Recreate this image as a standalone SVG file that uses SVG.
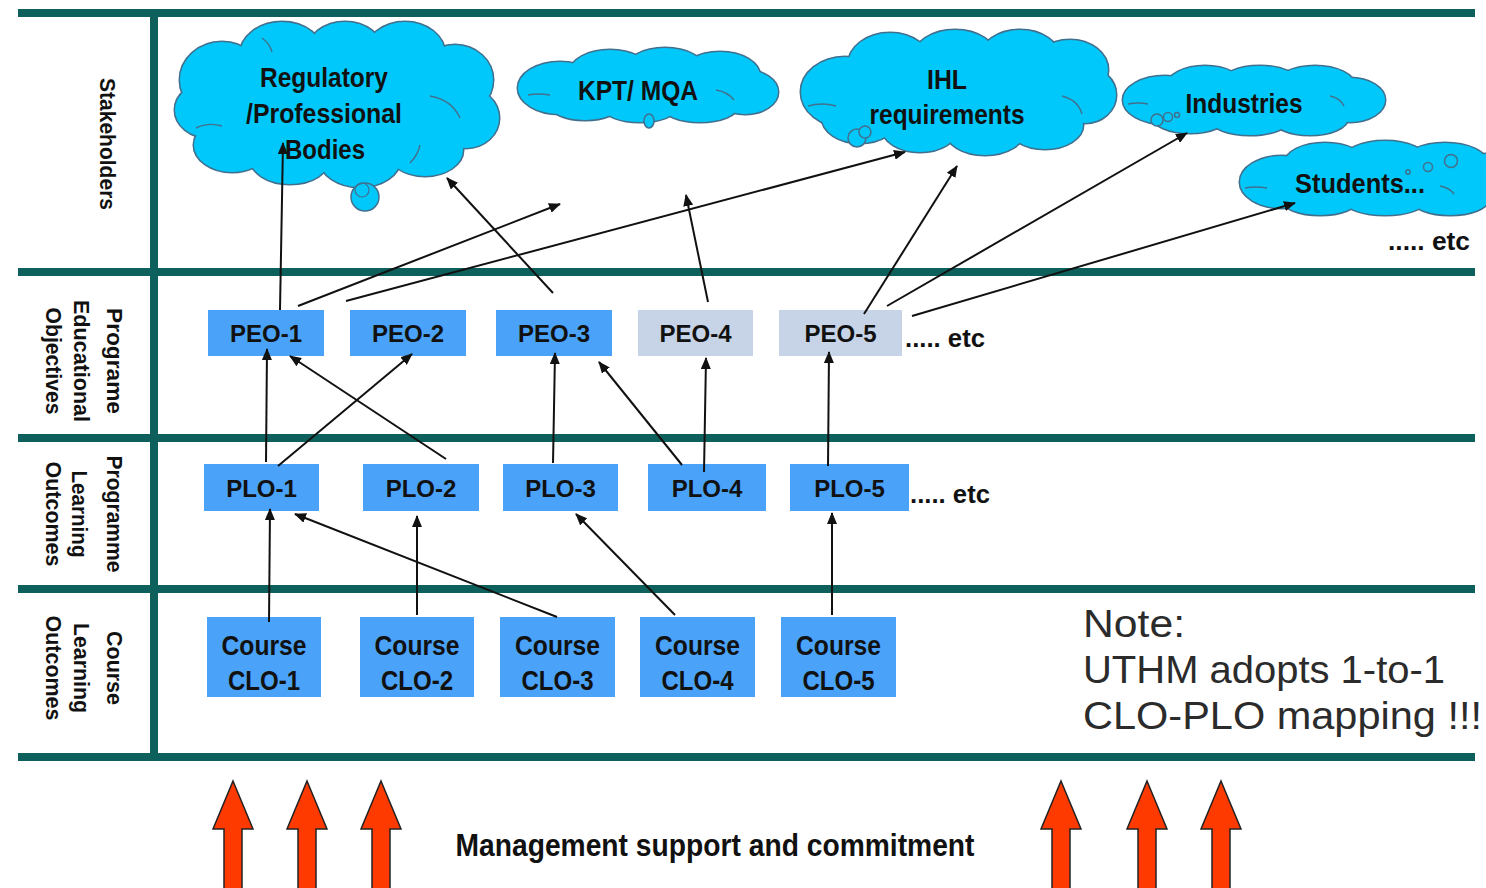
<svg xmlns="http://www.w3.org/2000/svg" xmlns:xlink="http://www.w3.org/1999/xlink" width="1486" height="888" viewBox="0 0 1486 888">
<style>
.bar{fill:#0e605c}
.cl-under{fill:#00c8fa;stroke:#41708f;stroke-width:3}
.cl-over{fill:#00c8fa;stroke:none}
.cl-in{fill:none;stroke:#41708f;stroke-width:1.4}
.bub{fill:#00c8fa;stroke:#41708f;stroke-width:1.5}
.ct{font-family:"Liberation Sans",Arial,sans-serif;font-weight:bold;font-size:28px;fill:#111;text-anchor:middle}
.box{fill:#4aa3f8}
.box2{fill:#c7d3e6}
.bt{font-family:"Liberation Sans",Arial,sans-serif;font-weight:bold;font-size:24px;fill:#111;text-anchor:middle}
.clt{font-family:"Liberation Sans",Arial,sans-serif;font-weight:bold;font-size:28px;fill:#111;text-anchor:middle}
.lab{font-family:"Liberation Sans",Arial,sans-serif;font-weight:bold;font-size:22px;fill:#111;text-anchor:middle}
.etc{font-family:"Liberation Sans",Arial,sans-serif;font-weight:bold;font-size:26px;fill:#111}
.note{font-family:"Liberation Sans",Arial,sans-serif;font-size:38px;fill:#2b2b2b}
.conn line{stroke:#111;stroke-width:2;marker-end:url(#ah)}
.red{fill:#ff3a00;stroke:#222;stroke-width:1.5}
</style>
<defs>
<marker id="ah" markerUnits="userSpaceOnUse" markerWidth="12" markerHeight="10" refX="11" refY="5" orient="auto">
<path d="M0,0 L12,5 L0,10 z" fill="#111"/>
</marker>
<path id="redarrow" d="M0,781 L20,829 L9,829 L9,890 L-9,890 L-9,829 L-20,829 Z"/>
<g id="c1">
<ellipse cx="222" cy="80" rx="42" ry="38"/><ellipse cx="282" cy="55" rx="42" ry="33"/><ellipse cx="345" cy="52" rx="38" ry="30"/><ellipse cx="405" cy="54" rx="40" ry="32"/><ellipse cx="455" cy="80" rx="38" ry="35"/><ellipse cx="466" cy="118" rx="33" ry="30"/><ellipse cx="425" cy="150" rx="38" ry="26"/><ellipse cx="360" cy="160" rx="40" ry="27"/><ellipse cx="290" cy="158" rx="40" ry="26"/><ellipse cx="232" cy="145" rx="38" ry="27"/><ellipse cx="210" cy="110" rx="35" ry="28"/><ellipse cx="335" cy="105" rx="125" ry="55"/>
</g>
<g id="c2">
<ellipse cx="560" cy="88" rx="42" ry="26"/><ellipse cx="610" cy="72" rx="40" ry="22"/><ellipse cx="665" cy="70" rx="40" ry="22"/><ellipse cx="720" cy="76" rx="40" ry="24"/><ellipse cx="745" cy="92" rx="33" ry="22"/><ellipse cx="700" cy="106" rx="38" ry="16"/><ellipse cx="640" cy="108" rx="36" ry="14"/><ellipse cx="585" cy="105" rx="35" ry="15"/><ellipse cx="648" cy="90" rx="100" ry="22"/>
</g>
<g id="c3">
<ellipse cx="845" cy="92" rx="44" ry="35"/><ellipse cx="890" cy="65" rx="42" ry="32"/><ellipse cx="955" cy="58" rx="42" ry="28"/><ellipse cx="1020" cy="58" rx="40" ry="28"/><ellipse cx="1070" cy="70" rx="38" ry="30"/><ellipse cx="1085" cy="95" rx="31" ry="28"/><ellipse cx="1045" cy="125" rx="38" ry="24"/><ellipse cx="985" cy="130" rx="40" ry="25"/><ellipse cx="920" cy="128" rx="38" ry="24"/><ellipse cx="860" cy="118" rx="38" ry="25"/><ellipse cx="960" cy="95" rx="115" ry="40"/>
</g>
<g id="c4">
<ellipse cx="1165" cy="100" rx="42" ry="24"/><ellipse cx="1205" cy="86" rx="38" ry="20"/><ellipse cx="1260" cy="84" rx="40" ry="18"/><ellipse cx="1315" cy="86" rx="40" ry="20"/><ellipse cx="1350" cy="100" rx="35" ry="22"/><ellipse cx="1310" cy="118" rx="38" ry="17"/><ellipse cx="1250" cy="119" rx="40" ry="16"/><ellipse cx="1190" cy="116" rx="38" ry="17"/><ellipse cx="1254" cy="101" rx="100" ry="22"/>
</g>
<g id="c5">
<ellipse cx="1282" cy="182" rx="42" ry="26"/><ellipse cx="1325" cy="163" rx="40" ry="20"/><ellipse cx="1385" cy="160" rx="42" ry="19"/><ellipse cx="1445" cy="163" rx="42" ry="20"/><ellipse cx="1486" cy="178" rx="30" ry="24"/><ellipse cx="1450" cy="200" rx="38" ry="15"/><ellipse cx="1385" cy="201" rx="40" ry="14"/><ellipse cx="1320" cy="200" rx="38" ry="15"/><ellipse cx="1375" cy="180" rx="110" ry="25"/>
</g>
</defs>
<rect width="1486" height="888" fill="#ffffff"/>

<g id="frame">
<rect class="bar" x="18" y="9" width="1457" height="8"/>
<rect class="bar" x="18" y="268" width="1457" height="8"/>
<rect class="bar" x="18" y="434" width="1457" height="8"/>
<rect class="bar" x="18" y="585" width="1457" height="8"/>
<rect class="bar" x="18" y="753" width="1457" height="8"/>
<rect class="bar" x="150" y="9" width="8" height="752"/>
</g>

<g id="row-labels">
<text class="lab" transform="translate(100,144) rotate(90)" textLength="132" lengthAdjust="spacingAndGlyphs">Stakeholders</text>
<g transform="translate(107,361) rotate(90)">
<text class="lab" x="0" y="0" textLength="106" lengthAdjust="spacingAndGlyphs">Programe</text>
<text class="lab" x="0" y="33" textLength="122" lengthAdjust="spacingAndGlyphs">Educational</text>
<text class="lab" x="0" y="61" textLength="107" lengthAdjust="spacingAndGlyphs">Objectives</text>
</g>
<g transform="translate(107,514) rotate(90)">
<text class="lab" x="0" y="0" textLength="117" lengthAdjust="spacingAndGlyphs">Programme</text>
<text class="lab" x="0" y="35" textLength="87" lengthAdjust="spacingAndGlyphs">Learning</text>
<text class="lab" x="0" y="61" textLength="105" lengthAdjust="spacingAndGlyphs">Outcomes</text>
</g>
<g transform="translate(107,668) rotate(90)">
<text class="lab" x="0" y="0" textLength="74" lengthAdjust="spacingAndGlyphs">Course</text>
<text class="lab" x="0" y="33" textLength="90" lengthAdjust="spacingAndGlyphs">Learning</text>
<text class="lab" x="0" y="61" textLength="105" lengthAdjust="spacingAndGlyphs">Outcomes</text>
</g>
</g>

<g id="cloud-regulatory">
<use xlink:href="#c1" class="cl-under"/><use xlink:href="#c1" class="cl-over"/>
<path class="cl-in" d="M430,96 q22,4 30,22 M196,128 q12,-6 26,-2 M262,38 q8,6 10,14 M410,163 q8,-8 10,-18"/>
<circle class="bub" cx="365" cy="197" r="14"/>
<circle cx="362" cy="190" r="7" fill="none" stroke="#41708f" stroke-width="1.2"/>
<text class="ct" x="324" y="87" textLength="128" lengthAdjust="spacingAndGlyphs">Regulatory</text>
<text class="ct" x="324" y="123" textLength="156" lengthAdjust="spacingAndGlyphs">/Professional</text>
<text class="ct" x="325" y="159" textLength="80" lengthAdjust="spacingAndGlyphs">Bodies</text>
</g>

<g id="cloud-kpt">
<use xlink:href="#c2" class="cl-under"/><use xlink:href="#c2" class="cl-over"/>
<path class="cl-in" d="M528,95 q10,-2 22,0 M716,90 q12,2 18,10"/>
<ellipse class="bub" cx="649" cy="121" rx="5" ry="7"/>
<text class="ct" x="638" y="100" textLength="120" lengthAdjust="spacingAndGlyphs">KPT/ MQA</text>
</g>

<g id="cloud-ihl">
<use xlink:href="#c3" class="cl-under"/><use xlink:href="#c3" class="cl-over"/>
<path class="cl-in" d="M808,106 q14,-4 28,0 M1062,96 q16,4 20,18"/>
<circle class="bub" cx="857" cy="138" r="9"/>
<circle class="bub" cx="865" cy="132" r="6"/>
<text class="ct" x="947" y="89" textLength="40" lengthAdjust="spacingAndGlyphs">IHL</text>
<text class="ct" x="947" y="124" textLength="155" lengthAdjust="spacingAndGlyphs">requirements</text>
</g>

<g id="cloud-industries">
<use xlink:href="#c4" class="cl-under"/><use xlink:href="#c4" class="cl-over"/>
<path class="cl-in" d="M1128,104 q10,-2 20,0 M1330,96 q10,2 14,10"/>
<circle class="bub" cx="1157" cy="120" r="6"/>
<circle class="bub" cx="1168" cy="117" r="4.5"/>
<circle class="bub" cx="1177" cy="115" r="2.5"/>
<text class="ct" x="1244" y="113" textLength="117" lengthAdjust="spacingAndGlyphs">Industries</text>
</g>

<g id="cloud-students">
<use xlink:href="#c5" class="cl-under"/><use xlink:href="#c5" class="cl-over"/>
<path class="cl-in" d="M1245,188 q10,-2 22,0 M1440,186 q10,2 14,8"/>
<circle class="bub" cx="1451" cy="161" r="6.5"/>
<circle class="bub" cx="1428" cy="167" r="4.5"/>
<circle class="bub" cx="1408" cy="172" r="2.2"/>
<text class="ct" x="1360" y="193" textLength="130" lengthAdjust="spacingAndGlyphs">Students...</text>
</g>

<g id="stake-etc"><text class="etc" x="1388" y="250" textLength="82" lengthAdjust="spacingAndGlyphs">..... etc</text></g>

<g id="peo-1"><rect class="box" x="208" y="310" width="116" height="46"/><text class="bt" x="266" y="342">PEO-1</text></g>
<g id="peo-2"><rect class="box" x="350" y="310" width="116" height="46"/><text class="bt" x="408" y="342">PEO-2</text></g>
<g id="peo-3"><rect class="box" x="496" y="310" width="116" height="46"/><text class="bt" x="554" y="342">PEO-3</text></g>
<g id="peo-4"><rect class="box2" x="638" y="310" width="115" height="46"/><text class="bt" x="695.5" y="342">PEO-4</text></g>
<g id="peo-5"><rect class="box2" x="779" y="310" width="123" height="46"/><text class="bt" x="840.5" y="342">PEO-5</text></g>
<g id="peo-etc"><text class="etc" x="905" y="347" textLength="80" lengthAdjust="spacingAndGlyphs">..... etc</text></g>

<g id="plo-1"><rect class="box" x="204" y="464" width="115" height="47"/><text class="bt" x="261.5" y="497">PLO-1</text></g>
<g id="plo-2"><rect class="box" x="363" y="464" width="116" height="47"/><text class="bt" x="421" y="497">PLO-2</text></g>
<g id="plo-3"><rect class="box" x="503" y="464" width="115" height="47"/><text class="bt" x="560.5" y="497">PLO-3</text></g>
<g id="plo-4"><rect class="box" x="648" y="464" width="118" height="47"/><text class="bt" x="707" y="497">PLO-4</text></g>
<g id="plo-5"><rect class="box" x="790" y="464" width="119" height="47"/><text class="bt" x="849.5" y="497">PLO-5</text></g>
<g id="plo-etc"><text class="etc" x="910" y="503" textLength="80" lengthAdjust="spacingAndGlyphs">..... etc</text></g>

<g id="clo-1"><rect class="box" x="207" y="617" width="114" height="80"/><text class="clt" x="264" y="655" textLength="85" lengthAdjust="spacingAndGlyphs">Course</text><text class="clt" x="264" y="690" textLength="72" lengthAdjust="spacingAndGlyphs">CLO-1</text></g>
<g id="clo-2"><rect class="box" x="360" y="617" width="114" height="80"/><text class="clt" x="417" y="655" textLength="85" lengthAdjust="spacingAndGlyphs">Course</text><text class="clt" x="417" y="690" textLength="72" lengthAdjust="spacingAndGlyphs">CLO-2</text></g>
<g id="clo-3"><rect class="box" x="500" y="617" width="115" height="80"/><text class="clt" x="557.5" y="655" textLength="85" lengthAdjust="spacingAndGlyphs">Course</text><text class="clt" x="557.5" y="690" textLength="72" lengthAdjust="spacingAndGlyphs">CLO-3</text></g>
<g id="clo-4"><rect class="box" x="640" y="617" width="115" height="80"/><text class="clt" x="697.5" y="655" textLength="85" lengthAdjust="spacingAndGlyphs">Course</text><text class="clt" x="697.5" y="690" textLength="72" lengthAdjust="spacingAndGlyphs">CLO-4</text></g>
<g id="clo-5"><rect class="box" x="781" y="617" width="115" height="80"/><text class="clt" x="838.5" y="655" textLength="85" lengthAdjust="spacingAndGlyphs">Course</text><text class="clt" x="838.5" y="690" textLength="72" lengthAdjust="spacingAndGlyphs">CLO-5</text></g>

<g id="connectors" class="conn">
<line x1="280" y1="310" x2="283" y2="143"/>
<line x1="298" y1="306" x2="560" y2="204"/>
<line x1="346" y1="301" x2="905" y2="152"/>
<line x1="553" y1="293" x2="447" y2="178"/>
<line x1="708" y1="302" x2="686" y2="195"/>
<line x1="864" y1="314" x2="957" y2="166"/>
<line x1="887" y1="306" x2="1187" y2="133"/>
<line x1="912" y1="316" x2="1295" y2="203"/>
<line x1="266" y1="462" x2="267" y2="349"/>
<line x1="278" y1="466" x2="412" y2="354"/>
<line x1="446" y1="459" x2="290" y2="356"/>
<line x1="553" y1="463" x2="555" y2="353"/>
<line x1="682" y1="465" x2="599" y2="362"/>
<line x1="704" y1="472" x2="706" y2="358"/>
<line x1="828" y1="466" x2="829" y2="352"/>
<line x1="269" y1="622" x2="270" y2="509"/>
<line x1="557" y1="617" x2="295" y2="514"/>
<line x1="417" y1="615" x2="417" y2="516"/>
<line x1="675" y1="615" x2="576" y2="514"/>
<line x1="832" y1="615" x2="832" y2="513"/>
</g>

<g id="note">
<text class="note" x="1083" y="637" textLength="102" lengthAdjust="spacingAndGlyphs">Note:</text>
<text class="note" x="1083" y="683" textLength="362" lengthAdjust="spacingAndGlyphs">UTHM adopts 1-to-1</text>
<text class="note" x="1083" y="729" textLength="399" lengthAdjust="spacingAndGlyphs">CLO-PLO mapping !!!</text>
</g>

<g id="management">
<use xlink:href="#redarrow" class="red" transform="translate(233,0)"/>
<use xlink:href="#redarrow" class="red" transform="translate(307,0)"/>
<use xlink:href="#redarrow" class="red" transform="translate(381,0)"/>
<use xlink:href="#redarrow" class="red" transform="translate(1061,0)"/>
<use xlink:href="#redarrow" class="red" transform="translate(1147,0)"/>
<use xlink:href="#redarrow" class="red" transform="translate(1221,0)"/>
<text class="ct" x="715" y="856" textLength="519" lengthAdjust="spacingAndGlyphs" style="font-size:31px">Management support and commitment</text>
</g>
</svg>
